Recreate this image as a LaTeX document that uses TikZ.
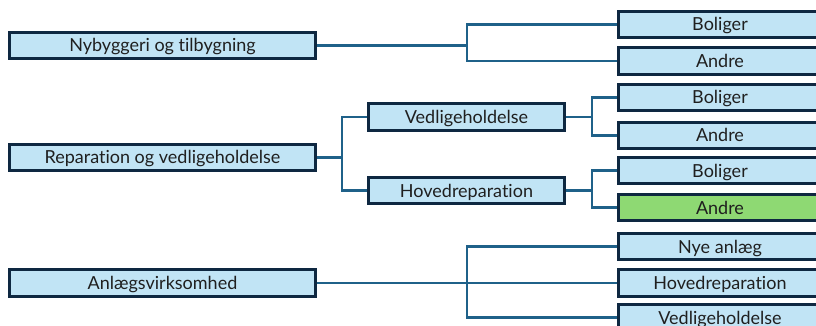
\documentclass[tikz,border=0pt]{standalone}
\usepackage{fontspec}
\setmainfont[Ligatures={NoCommon}]{Lato}
\definecolor{boxfill}{HTML}{C1E4F5}
\definecolor{boxline}{HTML}{0E2841}
\definecolor{conncol}{HTML}{1F6189}
\definecolor{greenfill}{HTML}{8ED973}
\begin{document}
\begin{tikzpicture}[x=1pt,y=-1pt,
  box/.style={draw=boxline, line width=2.6pt, fill=boxfill, minimum height=26.5pt, inner sep=0pt, text height=14pt, text depth=1pt, font=\fontsize{18}{20}\selectfont, text=black!88},
  lbox/.style={box, minimum width=306.5pt},
  mbox/.style={box, minimum width=196.5pt},
  rbox/.style={box, minimum width=203.5pt},
  conn/.style={draw=conncol, line width=2.4pt}]
\useasboundingbox (0,0) rectangle (816,326);
\clip (0,0) rectangle (816,326);
% left
\node[lbox] (ny) at (162.5,45.5) {Nybyggeri og tilbygning};
\node[lbox] (rep) at (162.5,157.5) {Reparation og vedligeholdelse};
\node[lbox] (anl) at (162.5,283) {Anlægsvirksomhed};
% middle
\node[mbox] (ved) at (466.5,117) {Vedligeholdelse};
\node[mbox] (hov) at (466.5,190.5) {Hovedreparation};
% right
\node[rbox] (b1) at (720,24.5) {Boliger};
\node[rbox] (a1) at (720,61) {Andre};
\node[rbox] (b2) at (720,97.5) {Boliger};
\node[rbox] (a2) at (720,135.5) {Andre};
\node[rbox] (b3) at (720,170.5) {Boliger};
\node[rbox, fill=greenfill] (a3) at (720,207.5) {Andre};
\node[rbox] (n4) at (720,246.5) {Nye anlæg};
\node[rbox] (h4) at (720,283) {Hovedreparation};
\node[rbox] (v4) at (720,317.5) {Vedligeholdelse};
% junctions
\coordinate (j1) at (467,45.5);
\coordinate (j2) at (342,157.5);
\coordinate (j3) at (592,117);
\coordinate (j4) at (592,190.5);
\coordinate (j5) at (467,283);
\draw[conn] (ny.east) -- (j1);
\draw[conn] (j1) |- (b1.west);
\draw[conn] (j1) |- (a1.west);
\draw[conn] (rep.east) -- (j2);
\draw[conn] (j2) |- (ved.west);
\draw[conn] (j2) |- (hov.west);
\draw[conn] (ved.east) -- (j3);
\draw[conn] (j3) |- (b2.west);
\draw[conn] (j3) |- (a2.west);
\draw[conn] (hov.east) -- (j4);
\draw[conn] (j4) |- (b3.west);
\draw[conn] (j4) |- (a3.west);
\draw[conn] (anl.east) -- (j5);
\draw[conn] (j5) |- (n4.west);
\draw[conn] (j5) -- (h4.west);
\draw[conn] (j5) |- (v4.west);
\end{tikzpicture}
\end{document}
